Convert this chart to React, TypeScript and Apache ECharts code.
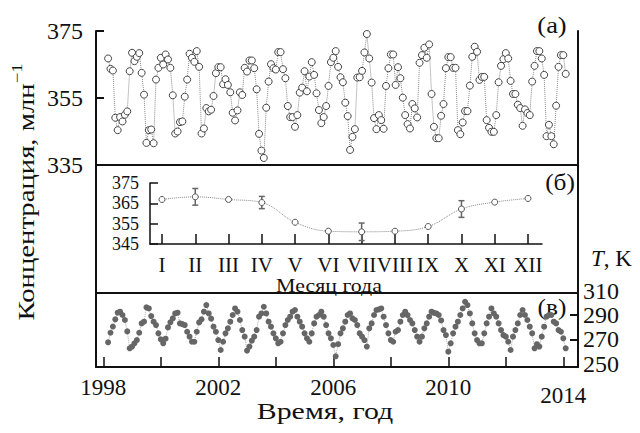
import React, { useEffect, useRef } from 'react';
import * as echarts from 'echarts';

const FONT = "'Liberation Serif', 'Times New Roman', serif";

const startYear = 1998;

// Monthly CO2 concentration, ppm (panel a), Jan 1998 - Dec 2013
const co2Monthly = [
  366.8, 363.7, 363.2, 349.1, 345.4, 349.3, 348.0, 350.0, 351.0, 363.0, 368.5, 366.0,
  367.3, 368.4, 362.5, 356.0, 341.6, 345.4, 345.6, 341.5, 360.5, 364.0, 367.0, 365.0,
  368.0, 366.5, 364.0, 355.8, 344.4, 345.0, 347.8, 348.0, 355.4, 360.5, 368.2, 367.0,
  365.8, 369.0, 364.3, 344.4, 345.9, 352.0, 351.0, 351.5, 355.6, 362.4, 364.2, 364.2,
  359.1, 360.6, 358.9, 356.7, 350.6, 348.3, 351.3, 356.7, 355.9, 364.0, 362.9, 366.2,
  366.2, 363.9, 357.6, 344.3, 339.3, 337.1, 352.1, 359.9, 365.1, 363.9, 363.5, 368.7,
  368.7, 363.6, 360.9, 352.6, 349.3, 349.3, 346.4, 349.9, 356.6, 358.1, 363.0, 357.0,
  361.4, 365.7, 361.9, 356.4, 351.4, 347.5, 349.3, 352.6, 358.6, 365.7, 367.0, 369.0,
  364.3, 361.2, 359.7, 353.6, 349.6, 339.5, 343.4, 345.7, 361.1, 361.2, 363.1, 368.6,
  374.1, 366.8, 359.6, 349.0, 345.7, 349.9, 348.4, 345.8, 358.6, 363.9, 368.0, 368.0,
  358.9, 364.2, 360.9, 355.1, 349.9, 347.2, 345.9, 353.2, 351.9, 349.2, 365.5, 367.8,
  370.0, 367.0, 371.0, 356.2, 346.4, 343.0, 343.0, 349.7, 353.2, 363.9, 367.2, 367.2,
  364.0, 364.0, 345.4, 344.2, 347.7, 351.1, 351.1, 358.7, 367.3, 370.3, 368.8, 360.4,
  361.3, 361.3, 348.4, 346.1, 344.9, 344.9, 349.9, 359.7, 364.6, 366.6, 368.4, 366.8,
  360.1, 356.2, 356.2, 353.0, 352.0, 346.7, 351.6, 350.5, 349.9, 359.9, 364.6, 369.0,
  369.0, 366.8, 361.9, 343.6, 347.0, 343.6, 341.2, 352.7, 364.3, 367.8, 367.8, 362.2,
];

// Monthly temperature, K (panel в)
const tempMonthly = [
  267.5, 275.4, 280.5, 286.4, 291.9, 292.7, 290.0, 285.9, 276.5, 262.6, 264.0, 266.7,
  269.4, 275.4, 283.1, 284.5, 296.3, 295.4, 289.1, 284.5, 281.7, 274.9, 270.0, 266.7,
  270.5, 279.8, 284.0, 287.2, 291.3, 291.9, 283.1, 282.5, 281.7, 276.2, 272.2, 268.0,
  268.0, 276.2, 283.9, 286.4, 292.7, 298.2, 291.3, 287.0, 280.4, 276.2, 269.4, 261.2,
  268.0, 274.9, 279.0, 284.5, 290.0, 295.4, 292.7, 285.9, 277.6, 272.2, 260.7, 264.0,
  268.9, 272.2, 277.6, 288.6, 291.3, 296.8, 291.3, 284.5, 280.4, 274.9, 270.8, 266.7,
  268.0, 274.9, 281.7, 285.9, 288.6, 292.7, 294.1, 288.6, 284.5, 280.4, 274.9, 270.8,
  268.0, 274.9, 283.1, 288.6, 290.0, 292.7, 288.6, 281.7, 274.9, 270.8, 265.3, 256.0,
  266.0, 274.9, 279.0, 284.5, 290.0, 291.3, 287.2, 285.9, 281.7, 274.9, 272.2, 269.4,
  264.0, 279.0, 283.1, 290.0, 294.1, 294.6, 295.4, 288.6, 281.7, 274.9, 269.4, 268.0,
  276.2, 277.6, 284.5, 290.0, 292.7, 289.9, 285.9, 283.1, 277.6, 272.2, 268.0, 272.2,
  279.0, 283.1, 288.6, 292.7, 291.8, 291.3, 290.0, 285.5, 277.6, 273.5, 259.8, 266.7,
  274.9, 280.4, 284.5, 290.0, 295.4, 300.9, 298.2, 291.3, 283.1, 274.9, 269.4, 266.7,
  266.7, 274.9, 283.1, 288.6, 295.4, 291.3, 288.6, 283.1, 277.6, 273.5, 272.2, 268.0,
  261.2, 272.2, 277.6, 283.1, 290.0, 294.1, 290.0, 285.9, 280.4, 274.9, 262.6, 266.0,
  264.0, 272.2, 280.4, 288.6, 290.0, 290.0, 284.5, 283.1, 277.6, 276.2, 270.8, 262.6,
];

// Panel б: mean per calendar month and error bars
const monthLabels = ['I', 'II', 'III', 'IV', 'V', 'VI', 'VII', 'VIII', 'IX', 'X', 'XI', 'XII'];
const monthMean = [366.9, 368.2, 366.9, 365.4, 355.7, 351.3, 351.0, 351.3, 353.6, 362.2, 365.6, 367.4];
const monthErr = [0, 4.1, 0, 3.0, 0, 0, 4.3, 0, 0, 4.1, 0, 0];

const yearLabels = [1998, 2002, 2006, 2010, 2014];

const XMIN = 1997.746;
const XMAX = 2014.511;

const monthX = (i: number) => startYear + (i + 2) / 12;

export default function App() {
  const ref = useRef<HTMLDivElement>(null);
  useEffect(() => {
    const chart = echarts.init(ref.current!, null, { renderer: 'svg' });
    const co2Data = co2Monthly.map((v, i) => [monthX(i), v]);
    const tData = tempMonthly.map((v, i) => [monthX(i), v]);
    const meanData = monthMean.map((v, i) => [i + 1, v]);
    const errData = monthMean
      .map((v, i) => [i + 1, v, monthErr[i]])
      .filter((d) => d[2] > 0);

    const black = '#111';
    const hidden = { show: false };
    const lineOnly = (w: number) => ({
      axisLine: { show: true, onZero: false, lineStyle: { color: black, width: w } },
      axisTick: { show: false },
      axisLabel: { show: false },
      splitLine: { show: false },
    });

    const option: any = {
      animation: false,
      backgroundColor: '#fff',
      textStyle: { fontFamily: FONT },
      grid: [
        { left: 96, right: 62, top: 31, height: 134 },
        { left: 96, right: 62, top: 165, height: 128, show: true, borderColor: black, borderWidth: 2, backgroundColor: 'transparent' },
        { left: 150, right: 98, top: 183, height: 61 },
        { left: 162, right: 112, top: 183, height: 61 },
        { left: 96, right: 62, top: 293, height: 74 },
        { left: 103.3, right: 76.7, top: 293, height: 74 },
        { left: 96, right: 62, top: 290.7, height: 72.9 },
      ],
      xAxis: [
        { type: 'value', gridIndex: 0, min: XMIN, max: XMAX, ...lineOnly(2) },
        { type: 'value', gridIndex: 1, min: 0, max: 1, ...hidden },
        { type: 'value', gridIndex: 2, min: 0, max: 1, ...lineOnly(1.5) },
        {
          type: 'value', gridIndex: 3, min: 1, max: 12, interval: 1,
          axisLine: { show: false },
          axisTick: { show: true, inside: true, length: 10, lineStyle: { color: black, width: 1.5 } },
          axisLabel: {
            show: true, margin: 10, color: black, fontFamily: FONT, fontSize: 21,
            formatter: (v: number) => monthLabels[Math.round(v) - 1] || '',
          },
          splitLine: { show: false },
        },
        { type: 'value', gridIndex: 4, min: XMIN, max: XMAX, ...lineOnly(2) },
        {
          type: 'value', gridIndex: 5, min: 1998, max: 2014, interval: 2,
          axisLine: { show: false },
          axisTick: { show: true, inside: true, length: 10, lineStyle: { color: black, width: 1.5 } },
          axisLabel: {
            show: true, margin: 9, color: black, fontFamily: FONT, fontSize: 23,
            formatter: (v: number) => {
              if (!yearLabels.includes(v)) return '';
              return v === 2014 ? '{d|' + v + '}' : String(v);
            },
            rich: { d: { fontFamily: FONT, fontSize: 23, color: black, padding: [8, 0, 0, 0] } },
          },
          splitLine: { show: false },
        },
        { type: 'value', gridIndex: 6, min: XMIN, max: XMAX, ...hidden },
      ],
      yAxis: [
        {
          type: 'value', gridIndex: 0, min: 335, max: 375, interval: 20, position: 'left',
          axisLine: { show: true, onZero: false, lineStyle: { color: black, width: 2 } },
          axisTick: { show: true, inside: true, length: 8, lineStyle: { color: black, width: 2 } },
          axisLabel: { show: true, margin: 13, color: black, fontFamily: FONT, fontSize: 24 },
          splitLine: { show: false },
        },
        { type: 'value', gridIndex: 0, min: 335, max: 375, position: 'right', ...lineOnly(2) },
        { type: 'value', gridIndex: 1, min: 0, max: 1, ...hidden },
        {
          type: 'value', gridIndex: 2, min: 345, max: 375, interval: 10, position: 'left',
          axisLine: { show: true, onZero: false, lineStyle: { color: black, width: 1.5 } },
          axisTick: { show: true, inside: true, length: 8, lineStyle: { color: black, width: 1.5 } },
          axisLabel: { show: true, margin: 11, color: black, fontFamily: FONT, fontSize: 18 },
          splitLine: { show: false },
        },
        { type: 'value', gridIndex: 3, min: 345, max: 375, ...hidden },
        { type: 'value', gridIndex: 4, min: 0, max: 1, position: 'left', ...lineOnly(2) },
        { type: 'value', gridIndex: 4, min: 0, max: 1, position: 'right', ...lineOnly(2) },
        { type: 'value', gridIndex: 5, min: 0, max: 1, ...hidden },
        {
          type: 'value', gridIndex: 6, min: 250, max: 310, interval: 20, position: 'right',
          axisLine: { show: false },
          axisTick: { show: true, inside: true, length: 8, lineStyle: { color: black, width: 2 }, customValues: [270, 290] },
          axisLabel: { show: true, margin: 5, color: black, fontFamily: FONT, fontSize: 24 },
          splitLine: { show: false },
        },
      ],
      series: [
        {
          type: 'line', xAxisIndex: 0, yAxisIndex: 0, data: co2Data,
          symbol: 'circle', symbolSize: 7, showSymbol: true,
          lineStyle: { type: 'dotted', color: '#888', width: 1 },
          itemStyle: { color: '#fff', borderColor: '#444', borderWidth: 1 },
          z: 3,
        },
        {
          type: 'line', xAxisIndex: 3, yAxisIndex: 4, data: meanData, smooth: 0.4,
          symbol: 'circle', symbolSize: 6,
          lineStyle: { type: 'dotted', color: '#888', width: 1 },
          itemStyle: { color: '#fff', borderColor: '#555', borderWidth: 1 },
          z: 3,
        },
        {
          type: 'custom', xAxisIndex: 3, yAxisIndex: 4, data: errData, z: 2,
          renderItem: (params: any, api: any) => {
            const x = api.value(0);
            const v = api.value(1);
            const e = api.value(2);
            const top = api.coord([x, v + e]);
            const bot = api.coord([x, v - e]);
            const st = { stroke: '#666', lineWidth: 1.5 };
            return {
              type: 'group',
              children: [
                { type: 'line', shape: { x1: top[0], y1: top[1], x2: bot[0], y2: bot[1] }, style: st },
                { type: 'line', shape: { x1: top[0] - 3, y1: top[1], x2: top[0] + 3, y2: top[1] }, style: st },
                { type: 'line', shape: { x1: bot[0] - 3, y1: bot[1], x2: bot[0] + 3, y2: bot[1] }, style: st },
              ],
            };
          },
        },
        {
          type: 'line', xAxisIndex: 6, yAxisIndex: 8, data: tData,
          symbol: 'circle', symbolSize: 6, showSymbol: true,
          lineStyle: { type: 'dotted', color: '#aaa', width: 1 },
          itemStyle: { color: '#666', borderColor: '#666', borderWidth: 0 },
          z: 3,
        },
      ],
      graphic: [
        {
          type: 'text', x: 24, y: 192, rotation: Math.PI / 2, scaleX: 1.25,
          style: {
            text: '{a|Концентрация, млн}{s|−1}',
            align: 'center', verticalAlign: 'middle',
            rich: {
              a: { fontFamily: FONT, fontSize: 23, fill: black, lineHeight: 28, verticalAlign: 'bottom' },
              s: { fontFamily: FONT, fontSize: 15, fill: black, lineHeight: 28, verticalAlign: 'top', padding: [0, 0, 10, 0] },
            },
          },
        },
        {
          type: 'text', x: 591, y: 258,
          style: {
            text: '{i|T}{r|, K}', align: 'left', verticalAlign: 'middle',
            rich: {
              i: { fontFamily: FONT, fontSize: 23, fontStyle: 'italic', fill: black },
              r: { fontFamily: FONT, fontSize: 23, fill: black },
            },
          },
        },
        { type: 'text', x: 552, y: 25, scaleX: 1.15, style: { text: '(a)', align: 'center', verticalAlign: 'middle', fontFamily: FONT, fontSize: 23, fill: black } },
        { type: 'text', x: 560, y: 182, scaleX: 1.1, style: { text: '(б)', align: 'center', verticalAlign: 'middle', fontFamily: FONT, fontSize: 23, fill: black } },
        { type: 'text', x: 552, y: 307, scaleX: 1.1, style: { text: '(в)', align: 'center', verticalAlign: 'middle', fontFamily: FONT, fontSize: 23, fill: black } },
        { type: 'text', x: 329, y: 286, scaleX: 1.15, style: { text: 'Месяц года', align: 'center', verticalAlign: 'middle', fontFamily: FONT, fontSize: 19, fill: black } },
        { type: 'text', x: 325, y: 411, scaleX: 1.3, style: { text: 'Время, год', align: 'center', verticalAlign: 'middle', fontFamily: FONT, fontSize: 23, fill: black } },
      ],
    };
    chart.setOption(option);
    return () => chart.dispose();
  }, []);
  return (
    <div
      ref={ref}
      style={{ position: 'fixed', left: 0, top: 0, width: 640, height: 433, background: '#fff' }}
    />
  );
}
